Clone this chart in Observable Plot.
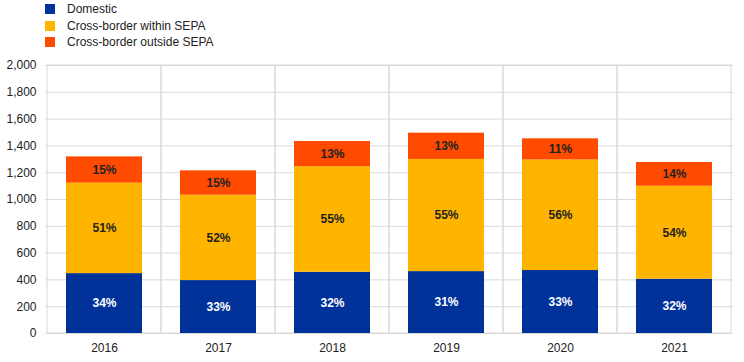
<!DOCTYPE html>
<html>
<head>
<meta charset="utf-8">
<script src="https://cdn.jsdelivr.net/npm/d3@7"></script>
<script src="https://cdn.jsdelivr.net/npm/@observablehq/plot@0.6"></script>
<style>
  body { margin: 0; background: #fff; font-family: "Liberation Sans", Arial, sans-serif; }
  #wrap { position: relative; width: 744px; height: 362px; }
  #legend { position: absolute; left: 45px; top: 1px; font-size: 12px; color: #222; }
  .item { display: flex; align-items: center; height: 16.5px; }
  .sw { width: 10px; height: 10px; margin-right: 12px; }
</style>
</head>
<body>
<div id="wrap">
  <div id="chart"></div>
  <div id="legend"></div>
</div>
<script>
const years = ["2016", "2017", "2018", "2019", "2020", "2021"];
const seriesNames = ["Domestic", "Cross-border within SEPA", "Cross-border outside SEPA"];
const seriesColors = ["#003299", "#FFB400", "#FF4B00"];
const domestic = [447, 395, 457, 462, 470, 405];
const withinSEPA = [675, 637, 788, 837, 825, 694];
const outsideSEPA = [196, 182, 188, 196, 158, 177];
const domesticPct = ["34%", "33%", "32%", "31%", "33%", "32%"];
const withinPct = ["51%", "52%", "55%", "55%", "56%", "54%"];
const outsidePct = ["15%", "15%", "13%", "13%", "11%", "14%"];
const yTicks = [0, 200, 400, 600, 800, 1000, 1200, 1400, 1600, 1800, 2000];

const values = [domestic, withinSEPA, outsideSEPA];
const pcts = [domesticPct, withinPct, outsidePct];
const colorOf = Object.fromEntries(seriesNames.map((s, i) => [s, seriesColors[i]]));

const data = [];
years.forEach((yr, j) => {
  seriesNames.forEach((s, i) => {
    data.push({year: yr, series: s, value: values[i][j], pct: pcts[i][j]});
  });
});

const chart = Plot.plot({
  width: 744,
  height: 362,
  marginTop: 65,
  marginBottom: 29,
  marginLeft: 45,
  marginRight: 11,
  style: {fontFamily: "Liberation Sans, Arial, sans-serif", fontSize: "12px", color: "#222", background: "#fff"},
  x: {type: "band", domain: years, padding: 0, label: null, tickSize: 0, tickPadding: 10},
  y: {domain: [0, 2000], ticks: yTicks, label: null, tickSize: 0, tickPadding: 9, tickFormat: d3.format(",")},
  marks: [
    Plot.ruleY(yTicks, {stroke: "#d9d9d9", strokeWidth: 1}),
    Plot.cell(years, {x: d => d, fill: "none", stroke: "#d9d9d9", strokeWidth: 1}),
    Plot.barY(data, Plot.stackY({
      x: "year", y: "value", z: "series",
      fill: d => colorOf[d.series],
      insetLeft: 19, insetRight: 19
    })),
    Plot.text(data, Plot.stackY({
      x: "year", y: "value", z: "series",
      text: "pct",
      fill: d => d.series === "Domestic" ? "#ffffff" : "#222222",
      fontWeight: "bold",
      fontSize: 12
    }))
  ]
});
document.getElementById("chart").appendChild(chart);

const legend = document.getElementById("legend");
seriesNames.forEach((s, i) => {
  const item = document.createElement("div");
  item.className = "item";
  const sw = document.createElement("div");
  sw.className = "sw";
  sw.style.background = seriesColors[i];
  const label = document.createElement("span");
  label.textContent = s;
  item.appendChild(sw);
  item.appendChild(label);
  legend.appendChild(item);
});
</script>
</body>
</html>
